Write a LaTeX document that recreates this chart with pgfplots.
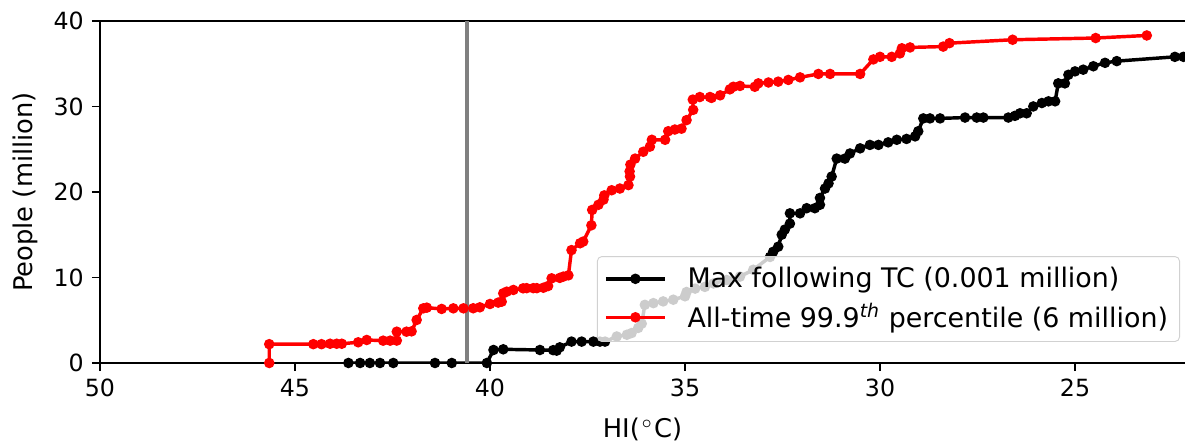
\documentclass[border=0pt]{standalone}
\usepackage{fontspec}
\setmainfont{DejaVu Sans}
\usepackage{pgfplots}
\pgfplotsset{compat=1.18}

\begin{document}
\begin{tikzpicture}
\useasboundingbox (-43.5pt,-35.7pt) rectangle (472pt,157.9pt);
\begin{axis}[
  scale only axis,
  width=472pt, height=148.8pt,
  x dir=reverse,
  xmin=22.18, xmax=50,
  ymin=0, ymax=40,
  xtick={50,45,40,35,30,25},
  ytick={0,10,20,30,40},
  axis x line*=box, axis y line*=left,
  xtick pos=bottom, ytick pos=left,
  tick align=outside,
  major tick length=3.5pt,
  every tick/.style={black, line width=0.8pt},
  axis line style={black, line width=0.8pt},
  /pgf/number format/assume math mode=true,
  tick label style={font=\fontsize{10.3}{12}\selectfont},
  xlabel={HI(\kern0.08em$^{\circ}$\kern0.05em C)},
  ylabel={People (million)},
  label style={font=\fontsize{11.2}{13}\selectfont},
  xlabel style={at={(axis description cs:0.5,-0.1956)}, anchor=center},
  ylabel style={at={(axis description cs:-0.069,0.5)}, anchor=center, rotate=0},
  legend style={at={(rel axis cs:0.9954,0.0614)}, anchor=south east,
    draw=black!18, fill=white, fill opacity=0.8, text opacity=1, draw opacity=1,
    rounded corners=2pt, font=\fontsize{11.7}{14}\selectfont,
    row sep=1.5pt, inner xsep=3pt, inner ysep=2.5pt},
  legend cell align=left,
  legend image code/.code={%
    \draw[mark repeat=2, mark phase=2] plot coordinates {(0cm,0cm) (0.45cm,0cm) (0.9cm,0cm)};
    \path (1.15cm,0cm);},
]
\addplot[black, line width=1.5pt, mark=*, mark size=1.5pt] coordinates {
(43.63,0) (43.33,0) (43.08,0) (42.82,0) (42.48,0) (41.41,0) (40.98,0) (40.08,0)
(39.91,1.52) (39.66,1.6) (38.72,1.52) (38.38,1.5) (38.29,1.44) (38.21,1.83)
(37.91,2.5) (37.65,2.5) (37.35,2.5) (37.18,2.5) (37.05,2.5)
(36.75,3.1) (36.49,3.3) (36.37,3.5) (36.20,4.1) (36.11,4.6) (36.03,6.8)
(35.81,7.0) (35.56,7.2) (35.30,7.4) (35.00,7.8) (34.96,8.3) (34.74,8.7)
(34.49,8.9) (34.27,9.3) (33.93,9.7) (33.59,10.1) (33.25,10.9) (32.82,12.4)
(32.74,13.0) (32.61,13.6) (32.52,15.0) (32.44,15.6) (32.31,16.3) (32.31,17.5)
(32.05,17.5) (31.88,18.1) (31.67,18.1) (31.54,18.5) (31.54,19.3) (31.41,20.4)
(31.32,21.0) (31.24,21.8) (31.11,23.9) (30.90,23.9) (30.77,24.5) (30.51,25.1)
(30.26,25.5) (30.04,25.5) (29.79,25.8) (29.57,26.1) (29.32,26.2) (29.10,26.5)
(29.02,27.1) (28.89,28.6) (28.72,28.6) (28.46,28.6) (27.82,28.7) (27.52,28.7)
(27.35,28.7) (26.71,28.7) (26.54,28.9) (26.41,29.2) (26.24,29.2) (26.07,30.0)
(25.85,30.4) (25.68,30.6) (25.51,30.6) (25.43,32.7) (25.26,32.7) (25.17,33.7)
(25.00,34.1) (24.79,34.3) (24.53,34.7) (24.23,35.1) (23.93,35.3) (22.44,35.8)
(22.22,35.8)
};
\addlegendentry{Max following TC (0.001 million)}
\addplot[red, line width=1.5pt, mark=*, mark size=1.5pt] coordinates {
(45.66,0) (45.66,2.2) (44.53,2.2) (44.32,2.2) (44.10,2.25) (43.93,2.25) (43.80,2.25)
(43.38,2.42) (43.16,2.69) (42.74,2.61) (42.56,2.61) (42.39,2.62) (42.39,3.66)
(42.14,3.66) (42.01,3.7) (41.88,5.03) (41.71,6.39) (41.62,6.47) (41.24,6.32)
(40.94,6.39) (40.68,6.39) (40.43,6.4) (40.26,6.51) (40.00,6.9) (39.79,7.06)
(39.70,7.17) (39.66,8.15) (39.57,8.34) (39.40,8.54) (39.15,8.73) (39.06,8.75)
(38.89,8.75) (38.80,8.75) (38.63,8.8) (38.51,9.0) (38.42,9.9) (38.21,9.95)
(38.12,10.1) (37.99,10.25) (37.91,13.2) (37.69,14.0) (37.61,14.2) (37.40,16.1)
(37.38,17.9) (37.22,18.5) (37.09,19.1) (37.07,19.6) (36.88,20.2) (36.67,20.4)
(36.45,20.8) (36.41,21.8) (36.42,22.4) (36.40,23.2) (36.28,23.9) (36.07,24.7)
(35.90,25.3) (35.85,26.1) (35.51,26.1) (35.43,27.1) (35.26,27.3) (35.09,27.4)
(34.96,28.4) (34.79,29.6) (34.80,30.8) (34.62,31.1) (34.36,31.1) (34.32,31.0)
(34.10,31.3) (33.85,32.0) (33.76,32.3) (33.59,32.4) (33.21,32.3) (33.12,32.7)
(32.86,32.8) (32.61,32.9) (32.35,33.1) (32.05,33.4) (31.58,33.8) (31.28,33.8)
(30.51,33.8) (30.17,35.5) (30.00,35.8) (29.70,35.8) (29.49,36.2) (29.44,36.8)
(29.23,36.9) (28.38,37.0) (28.22,37.4) (26.60,37.8) (24.47,38.0) (23.16,38.3)
};
\addlegendentry{All-time 99.9\textsuperscript{\itshape th} percentile (6 million)}
\addplot[forget plot, color=gray, line width=1.8pt] coordinates {(40.6,0) (40.6,40)};
\end{axis}
\end{tikzpicture}
\end{document}
